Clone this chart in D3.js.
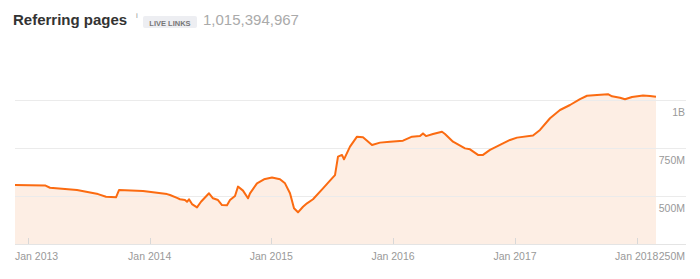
<!DOCTYPE html>
<html>
<head>
<meta charset="utf-8">
<script src="https://cdn.jsdelivr.net/npm/d3@7"></script>
<style>
  body { margin: 0; background: #fff; font-family: "Liberation Sans", Arial, Helvetica, sans-serif; }
</style>
</head>
<body>
<div id="chart"></div>
<script>
// values (millions of referring pages)
const dates = ["2012-11-23","2013-02-21","2013-03-08","2013-05-28","2013-07-30","2013-08-23","2013-09-22","2013-10-01",
  "2013-12-12","2014-02-22","2014-03-03","2014-03-24","2014-04-02","2014-04-17","2014-04-23","2014-04-29","2014-05-08",
  "2014-05-23","2014-06-04","2014-06-28","2014-07-10","2014-07-25","2014-08-06","2014-08-21","2014-08-30","2014-09-14",
  "2014-09-23","2014-10-08","2014-10-23","2014-10-29","2014-11-19","2014-12-10","2015-01-03","2015-01-27","2015-02-11",
  "2015-02-26","2015-03-10","2015-03-22","2015-04-06","2015-04-18","2015-05-06","2015-06-05","2015-07-02","2015-07-11",
  "2015-07-20","2015-08-01","2015-08-07","2015-08-25","2015-09-15","2015-10-03","2015-10-30","2015-11-23","2015-12-23",
  "2016-01-31","2016-02-27","2016-03-22","2016-03-31","2016-04-09","2016-04-30","2016-05-27","2016-06-05","2016-06-29",
  "2016-08-04","2016-08-19","2016-09-12","2016-09-27","2016-10-18","2016-10-27","2016-11-17","2016-12-17","2017-01-07",
  "2017-02-24","2017-03-17","2017-04-16","2017-05-16","2017-06-15","2017-07-15","2017-08-05","2017-09-04","2017-10-07",
  "2017-10-19","2017-11-12","2017-11-27","2017-12-18","2018-01-20","2018-02-10","2018-02-28"];
const pages = [557,555,543,531,510,496,493,531,
  526,510,505,490,483,479,470,483,458,
  441,470,514,488,479,453,452,479,500,
  549,528,488,514,566,587,596,587,566,
  514,436,415,444,462,483,540,592,609,
  705,714,691,757,809,806,766,778,783,
  788,809,812,826,812,823,835,823,783,
  748,743,714,714,740,748,766,792,804,
  815,844,905,948,974,1005,1022,1026,1030,
  1019,1012,1004,1016,1024,1021,1017];
const yTicks = [250, 500, 750, 1000];
const yTickLabels = ["250M", "500M", "750M", "1B"];

const width = 700, height = 279;
const plotLeft = 15, plotRight = 656, gridRight = 686, plotTop = 52, plotBottom = 244;

const parse = d3.timeParse("%Y-%m-%d");
const data = dates.map((d, i) => ({ date: parse(d), value: pages[i] }));

const svg = d3.select("#chart").append("svg")
    .attr("width", width)
    .attr("height", height);

// header
svg.append("text").attr("x", 13).attr("y", 25)
    .attr("font-size", 15).attr("font-weight", "bold").attr("fill", "#333").text("Referring pages");
svg.append("text").attr("x", 136).attr("y", 18).attr("font-size", 8).attr("fill", "#999").text("i");
svg.append("rect").attr("x", 143).attr("y", 16).attr("width", 54).attr("height", 12).attr("rx", 2).attr("fill", "#edeef2");
svg.append("text").attr("x", 170).attr("y", 25.5).attr("text-anchor", "middle")
    .attr("font-size", 7.5).attr("font-weight", "bold").attr("fill", "#777").text("LIVE LINKS");
svg.append("text").attr("x", 203).attr("y", 25).attr("font-size", 15).attr("fill", "#aaa").text("1,015,394,967");

const x = d3.scaleTime()
    .domain(d3.extent(data, d => d.date))
    .range([plotLeft, plotRight]);
const y = d3.scaleLinear()
    .domain([250, 1250])
    .range([plotBottom, plotTop]);

// area + line
const area = d3.area().x(d => x(d.date)).y0(plotBottom).y1(d => y(d.value));
const line = d3.line().x(d => x(d.date)).y(d => y(d.value));

svg.append("path").datum(data).attr("d", area).attr("fill", "#fdeee4");

// grid lines
svg.selectAll(".grid").data(yTicks).enter().append("line")
    .attr("x1", plotLeft).attr("x2", gridRight)
    .attr("y1", d => Math.round(y(d)) + 0.5).attr("y2", d => Math.round(y(d)) + 0.5)
    .attr("stroke", d => d === 250 ? "#e4e4e4" : "#ebebeb");

svg.selectAll(".ylab").data(yTicks).enter().append("text")
    .attr("x", gridRight - 1).attr("y", d => y(d) + 16)
    .attr("text-anchor", "end").attr("font-size", 10.5).attr("fill", "#999")
    .text((d, i) => yTickLabels[i]);

svg.append("path").datum(data).attr("d", line)
    .attr("fill", "none").attr("stroke", "#fb6b11").attr("stroke-width", 2)
    .attr("stroke-linejoin", "round");

// x axis ticks
const xTicks = x.ticks(d3.timeYear.every(1));
svg.selectAll(".xtick").data(xTicks).enter().append("line")
    .attr("x1", d => Math.round(x(d)) + 0.5).attr("x2", d => Math.round(x(d)) + 0.5)
    .attr("y1", plotBottom - 6).attr("y2", plotBottom)
    .attr("stroke", "#d8d8d8");

svg.selectAll(".xlab").data(xTicks).enter().append("text")
    .attr("x", d => x(d)).attr("y", 260)
    .attr("text-anchor", "middle").attr("font-size", 10.5).attr("fill", "#999")
    .text(d3.timeFormat("Jan %Y"))
    .each(function(d) {
      const w = this.getComputedTextLength();
      if (x(d) - w / 2 < plotLeft) d3.select(this).attr("x", plotLeft + w / 2);
    });
</script>
</body>
</html>
